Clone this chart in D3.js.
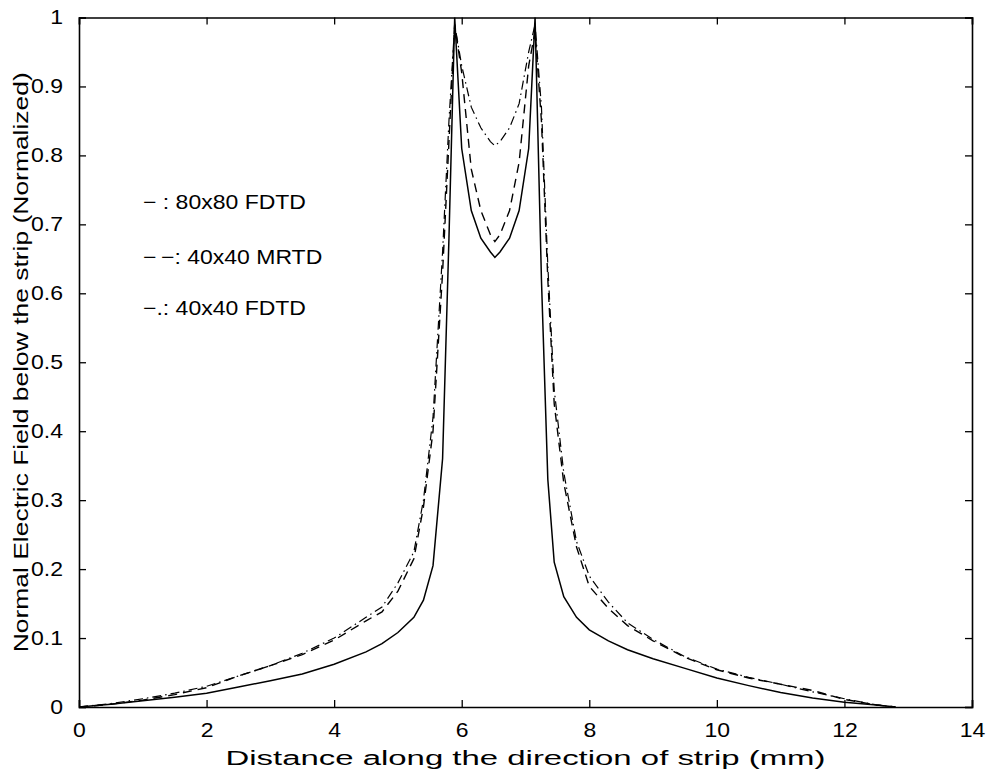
<!DOCTYPE html>
<html>
<head>
<meta charset="utf-8">
<script src="https://cdn.jsdelivr.net/npm/d3@7"></script>
<style>
  html, body { margin: 0; padding: 0; background: #fff; }
  svg { display: block; }
  text { font-family: "Liberation Sans", Arial, Helvetica, sans-serif; fill: #000; }
</style>
</head>
<body>
<svg id="chart" width="991" height="774"></svg>
<script>
// ---- data ----
const xValues = [0, 0.5, 1, 1.5, 2, 2.5, 3, 3.5, 4, 4.5, 4.75, 5, 5.25, 5.4, 5.55, 5.7, 5.8, 5.89,
  6.0, 6.15, 6.3, 6.45, 6.52, 6.6, 6.75, 6.9, 7.05, 7.15, 7.25, 7.35, 7.45, 7.6, 7.8, 8.0,
  8.3, 8.6, 9.0, 9.5, 10, 10.5, 11, 11.5, 12, 12.5, 12.8];

const fdtd80 = [0, 0.004, 0.009, 0.014, 0.020, 0.029, 0.038, 0.048, 0.062, 0.080, 0.092, 0.108, 0.130, 0.155, 0.205, 0.36, 0.68, 1.0,
  0.81, 0.72, 0.68, 0.66, 0.652, 0.66, 0.68, 0.72, 0.81, 1.0, 0.62, 0.33, 0.21, 0.16, 0.13, 0.112,
  0.096, 0.083, 0.070, 0.056, 0.042, 0.031, 0.021, 0.013, 0.007, 0.003, 0];

const mrtd40 = [0, 0.004, 0.010, 0.018, 0.028, 0.045, 0.060, 0.076, 0.097, 0.125, 0.138, 0.168, 0.215, 0.29, 0.40, 0.63, 0.82, 0.99,
  0.92, 0.78, 0.72, 0.685, 0.675, 0.685, 0.72, 0.79, 0.93, 0.98, 0.85, 0.62, 0.44, 0.325, 0.232, 0.175,
  0.143, 0.118, 0.096, 0.072, 0.054, 0.042, 0.033, 0.024, 0.011, 0.003, 0];

const fdtd40 = [0, 0.005, 0.012, 0.020, 0.030, 0.045, 0.060, 0.078, 0.100, 0.130, 0.145, 0.180, 0.225, 0.30, 0.42, 0.66, 0.85, 0.99,
  0.93, 0.87, 0.84, 0.82, 0.814, 0.82, 0.84, 0.875, 0.95, 0.99, 0.87, 0.64, 0.46, 0.34, 0.24, 0.19,
  0.152, 0.122, 0.098, 0.073, 0.055, 0.043, 0.033, 0.022, 0.012, 0.003, 0];

const xTicks = [0, 2, 4, 6, 8, 10, 12, 14];
const yTicks = [0, 0.1, 0.2, 0.3, 0.4, 0.5, 0.6, 0.7, 0.8, 0.9, 1];
const legendLabels = ["\u2212 : 80x80 FDTD", "\u2212\u2009\u2212: 40x40 MRTD", "\u2212.: 40x40 FDTD"];
const xLabel = "Distance along the direction of strip (mm)";
const yLabel = "Normal Electric Field below the strip (Normalized)";

// ---- layout ----
const W = 991, H = 774;
const m = { left: 79, top: 17.5, right: W - 972, bottom: H - 707 };
const pw = W - m.left - m.right, ph = H - m.top - m.bottom;
const FS = 20, SX = 1.15;

const svg = d3.select("#chart");
const g = svg.append("g").attr("transform", `translate(${m.left},${m.top})`);

const x = d3.scaleLinear().domain([0, 14]).range([0, pw]);
const y = d3.scaleLinear().domain([0, 1]).range([ph, 0]);

// series
const series = [
  { vals: fdtd80, dash: null, w: 1.5 },
  { vals: mrtd40, dash: "9,6", w: 1.4 },
  { vals: fdtd40, dash: "9,4,1.5,4", w: 1.2 }
];
const line = d3.line().x(d => x(d[0])).y(d => y(d[1]));
series.forEach(s => {
  g.append("path")
    .datum(xValues.map((xv, i) => [xv, s.vals[i]]))
    .attr("d", line)
    .attr("fill", "none")
    .attr("stroke", "#000")
    .attr("stroke-width", s.w)
    .attr("stroke-dasharray", s.dash);
});

// axes (MATLAB style: inward ticks, box)
const tickLen = 7;
const fmt = d => d3.format("~g")(d);
const axB = g.append("g").attr("transform", `translate(0,${ph})`)
  .call(d3.axisBottom(x).tickValues(xTicks).tickSize(-tickLen).tickPadding(tickLen + 9).tickFormat(fmt));
const axT = g.append("g")
  .call(d3.axisTop(x).tickValues(xTicks).tickSize(-tickLen).tickFormat(""));
const axL = g.append("g")
  .call(d3.axisLeft(y).tickValues(yTicks).tickSize(-tickLen).tickPadding(tickLen + 9).tickFormat(fmt));
const axR = g.append("g").attr("transform", `translate(${pw},0)`)
  .call(d3.axisRight(y).tickValues(yTicks).tickSize(-tickLen).tickFormat(""));
[axB, axT, axL, axR].forEach(a => {
  a.select(".domain").attr("stroke", "#000").attr("stroke-width", 1.6);
  a.selectAll(".tick line").attr("stroke", "#000").attr("stroke-width", 1.3);
  a.selectAll("text").style("font-size", FS + "px")
    .style("font-family", '"Liberation Sans", Arial, sans-serif').attr("fill", "#000");
});
axB.selectAll(".tick text").attr("transform", `scale(${SX},1)`);
axL.selectAll(".tick text").attr("transform", `translate(${-(tickLen + 9)},0) scale(${SX},1) translate(${tickLen + 9},0)`);

// axis labels
svg.append("text")
  .attr("x", m.left + pw / 2)
  .attr("y", 765)
  .attr("text-anchor", "middle")
  .attr("textLength", 600)
  .attr("lengthAdjust", "spacingAndGlyphs")
  .style("font-size", "20px")
  .text(xLabel);
svg.append("text")
  .attr("transform", `translate(28,${m.top + ph / 2}) rotate(-90)`)
  .attr("x", 0).attr("y", 0)
  .attr("text-anchor", "middle")
  .attr("textLength", 580)
  .attr("lengthAdjust", "spacingAndGlyphs")
  .style("font-size", "21px")
  .text(yLabel);

// legend as text annotations
const legY = [202, 257, 308];
legendLabels.forEach((t, i) => {
  svg.append("text")
    .attr("transform", `translate(143,${legY[i] + 7}) scale(${SX},1)`)
    .style("font-size", FS + "px")
    .text(t);
});
</script>
</body>
</html>
